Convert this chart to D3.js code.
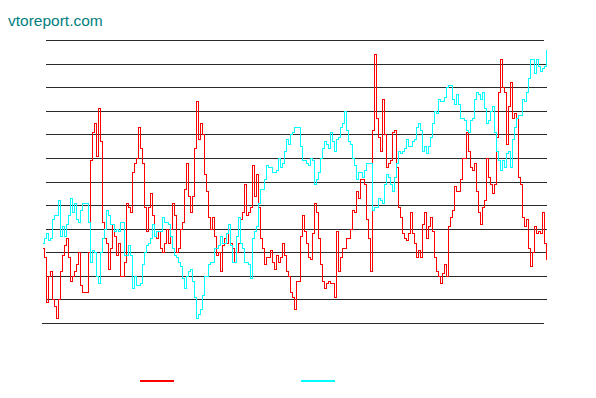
<!DOCTYPE html>
<html>
<head>
<meta charset="utf-8">
<script src="https://cdn.jsdelivr.net/npm/d3@7"></script>
<style>
  html, body { margin: 0; padding: 0; background: #fff; }
  svg { display: block; }
</style>
</head>
<body>
<div id="chart"></div>
<script>
// values, one every other pixel column
const redValues = [
  32,28,9,20,22,10,7,2,10,22,
  29,33,36,28,18,20,22,25,30,16,
  13,13,13,30,69,81,85,71,91,77,
  43,36,34,23,32,42,37,29,34,20,
  20,26,51,49,47,64,68,70,83,74,
  68,49,39,49,55,46,37,36,39,32,
  30,34,40,34,40,51,46,30,32,40,
  43,57,68,54,47,54,74,94,78,85,
  80,63,56,45,40,45,37,29,30,22,
  33,36,34,40,34,32,26,30,34,44,
  47,59,46,47,49,67,54,63,49,36,
  32,25,28,28,31,26,23,29,26,28,
  34,29,22,20,13,11,6,18,18,37,
  46,39,34,28,27,38,51,47,36,25,
  18,15,17,18,17,17,11,39,22,28,
  32,32,36,36,40,48,47,56,53,61,
  61,59,44,36,22,82,114,87,79,73,
  95,80,66,68,69,81,82,66,49,45,
  38,36,35,38,47,38,34,28,31,28,
  42,47,36,41,45,39,28,22,20,17,
  21,25,20,41,45,48,58,56,56,61,
  70,70,81,73,66,65,68,56,47,42,
  49,52,70,62,59,55,59,79,98,112,
  100,98,76,92,102,87,89,87,62,59,
  45,41,44,32,24,30,41,38,39,38,
  47,34,27
];

const cyanValues = [
  34,36,38,35,36,44,46,46,52,37,
  41,37,42,46,53,47,51,44,43,48,
  51,51,51,43,26,31,30,20,17,30,
  36,40,48,46,42,42,39,40,39,43,
  43,29,29,33,29,15,20,16,16,17,
  25,30,33,34,36,42,37,39,39,39,
  45,43,43,42,37,32,29,28,26,24,
  19,15,20,22,23,18,11,2,4,6,
  12,20,20,25,26,26,32,32,33,37,
  34,34,38,42,33,26,26,37,45,34,
  32,26,26,25,19,36,39,41,51,57,
  57,61,67,66,66,64,64,65,70,66,
  68,73,78,76,80,81,83,83,83,75,
  69,69,68,67,70,69,59,61,64,70,
  74,77,76,74,81,77,73,78,79,83,
  85,90,82,77,76,70,67,61,64,64,
  62,65,68,68,68,48,49,49,53,52,
  51,59,63,62,59,56,62,68,73,72,
  73,74,78,75,75,77,78,83,85,82,
  73,75,72,75,79,85,90,89,95,94,
  94,96,100,101,101,95,93,97,93,87,
  87,86,82,81,86,87,95,98,97,95,
  98,91,85,86,90,92,81,73,69,65,
  69,66,72,73,66,78,83,87,88,88,
  95,94,98,104,112,112,106,112,109,107,
  108,109,116
];

const gridTicks = [0, 10, 20, 30, 40, 50, 60, 70, 80, 90, 100, 110, 120];
const seriesColors = ['#ff0000', '#00ffff'];
const titleText = 'vtoreport.com';

const width = 596, height = 398;

const svg = d3.select('#chart').append('svg')
  .attr('width', width)
  .attr('height', height);

svg.append('text')
  .attr('x', 8)
  .attr('y', 26)
  .attr('fill', '#008080')
  .style('font-family', '"Liberation Sans", Arial, sans-serif')
  .style('font-size', '15.5px')
  .text(titleText);

const y = d3.scaleLinear().domain([0, 120]).range([323, 40]);
const x = d3.scaleLinear().domain([0, redValues.length - 1]).range([42, 546]);

// horizontal grid, the bottom one doubles as the axis
svg.append('g')
  .selectAll('line')
  .data(gridTicks)
  .enter()
  .append('line')
  .attr('x1', d => d === 0 ? 42 : 46)
  .attr('x2', d => (d === 0 || d === 120) ? 544 : 547)
  .attr('y1', d => Math.round(y(d)) + 0.5)
  .attr('y2', d => Math.round(y(d)) + 0.5)
  .attr('stroke', '#2b2b2b')
  .attr('stroke-width', 1);

// step-ish pixel look like the original GDI plot
const line = d3.line()
  .x((d, i) => Math.round(x(i)) + 0.5)
  .y(d => Math.round(y(d)) + 0.5)
  .curve(d3.curveStepAfter);

[redValues, cyanValues].forEach((vals, k) => {
  svg.append('path')
    .datum(vals)
    .attr('fill', 'none')
    .attr('stroke', seriesColors[k])
    .attr('stroke-width', 1)
    .attr('shape-rendering', 'crispEdges')
    .attr('d', line);
});

// legend swatches (no labels in the original)
const legendX = d3.scalePoint().domain([0, 1]).range([140, 301]);
svg.append('g')
  .selectAll('line')
  .data(seriesColors)
  .enter()
  .append('line')
  .attr('x1', (d, i) => legendX(i))
  .attr('x2', (d, i) => legendX(i) + 34)
  .attr('y1', 380.5)
  .attr('y2', 380.5)
  .attr('stroke', d => d)
  .attr('stroke-width', 2)
  .attr('shape-rendering', 'crispEdges');
</script>
</body>
</html>
